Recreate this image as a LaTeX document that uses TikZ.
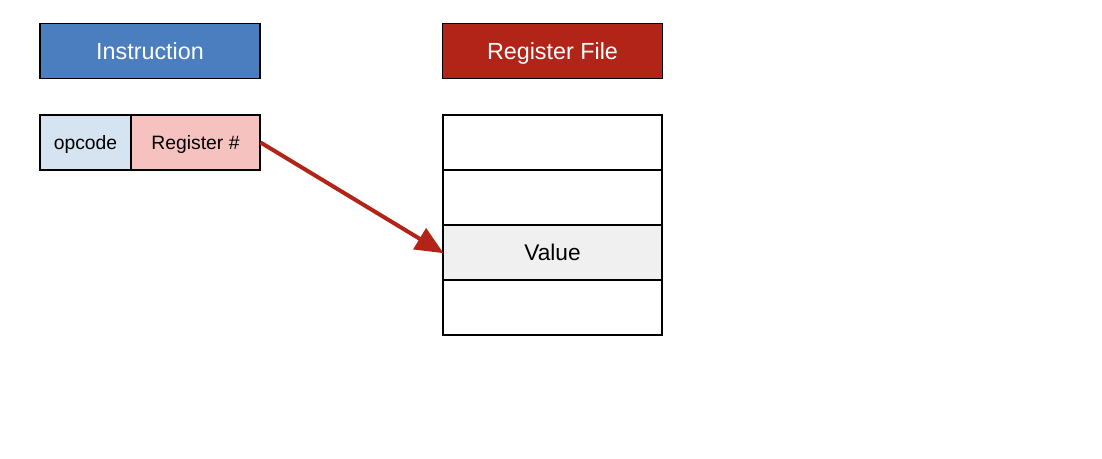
\documentclass[tikz,border=0pt]{standalone}
\usepackage{fontspec}
\setmainfont{Liberation Sans}
\usetikzlibrary{arrows.meta}
\definecolor{instblue}{HTML}{4A7EBE}
\definecolor{regred}{HTML}{B22418}
\definecolor{opblue}{HTML}{D6E4F2}
\definecolor{regpink}{HTML}{F5C2C0}
\definecolor{valgray}{HTML}{F0F0F0}
\tikzset{
  cell/.style={draw=black, line width=0.9pt, inner sep=0pt, minimum height=41.25pt, text depth=0pt},
  title/.style={cell, text=white, font=\fontsize{17.5}{20}\selectfont, minimum width=165pt, text height=12.5pt},
  small/.style={font=\fontsize{14.5}{17}\selectfont, text height=10.4pt},
}
\begin{document}
\begin{tikzpicture}[x=0.75pt, y=-0.75pt]
      \useasboundingbox (0,0) rectangle (1102,458);
      \draw
        (150,51) node[title, fill=instblue] (inst){Instruction}
        (552.5,51) node[title, fill=regred] (rf){Register File}
        (85.5,142.5) node[cell, small, fill=opblue, minimum width=68.25pt] (opcode){opcode}
        (195.5,142.5) node[cell, small, fill=regpink, minimum width=96.75pt] (regnum){Register \#}
        (552.5,142.5) node[cell, minimum width=164.25pt] (r0){}
        (552.5,197.5) node[cell, minimum width=164.25pt] (r1){}
        (552.5,252.5) node[cell, fill=valgray, minimum width=164.25pt, font=\fontsize{17}{20}\selectfont, text height=12.2pt] (value){Value}
        (552.5,307.5) node[cell, minimum width=164.25pt] (r3){};
      \begin{scope}[-{Triangle[length=21pt,width=18pt]}]
        \draw[regred, line width=3pt, shorten >=-1pt] (regnum.east) to (value.west);
      \end{scope}
    \end{tikzpicture}
\end{document}
